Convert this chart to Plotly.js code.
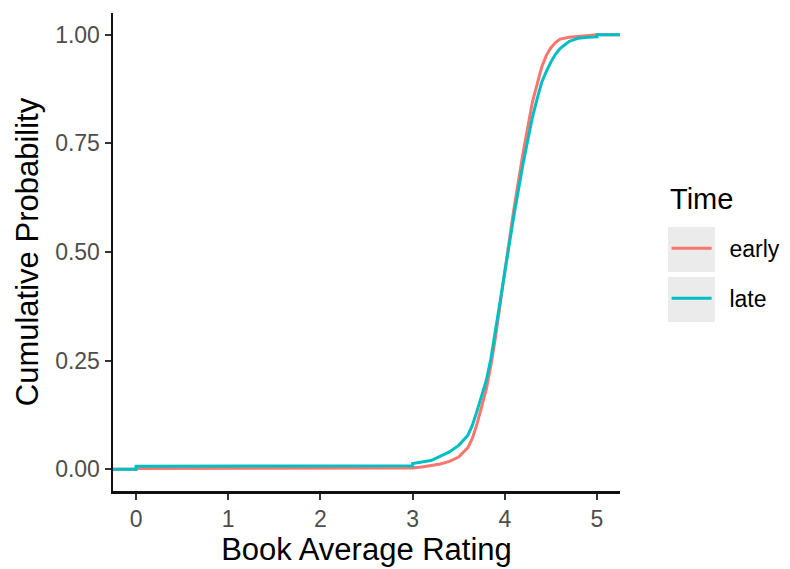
<!DOCTYPE html>
<html>
<head>
<meta charset="utf-8">
<script src="https://cdn.plot.ly/plotly-3.0.1.min.js"></script>
<style>html,body{margin:0;padding:0;background:#fff;}#chart{width:790px;height:569px;}</style>
</head>
<body>
<div id="chart"></div>
<script>
const earlyX = [-0.25, 0, 0, 3.0, 3.1, 3.2, 3.3, 3.4, 3.5, 3.6, 3.65, 3.7, 3.75, 3.8, 3.85, 3.9, 4.0, 4.1, 4.2, 4.3, 4.35, 4.4, 4.45, 4.5, 4.55, 4.6, 4.7, 4.8, 4.9, 5.0, 5.25];
const earlyY = [0, 0, 0.002, 0.003, 0.005, 0.008, 0.012, 0.018, 0.028, 0.05, 0.072, 0.105, 0.142, 0.185, 0.24, 0.305, 0.455, 0.6, 0.73, 0.845, 0.885, 0.925, 0.952, 0.97, 0.982, 0.99, 0.994, 0.996, 0.998, 1.0, 1.0];
const lateX = [-0.25, 0, 0, 3.0, 3.0, 3.2, 3.4, 3.5, 3.6, 3.65, 3.7, 3.75, 3.8, 3.85, 3.9, 4.0, 4.1, 4.2, 4.3, 4.35, 4.4, 4.45, 4.5, 4.55, 4.6, 4.7, 4.8, 4.9, 5.0, 5.0, 5.25];
const lateY = [0, 0, 0.007, 0.008, 0.013, 0.02, 0.04, 0.055, 0.078, 0.102, 0.135, 0.168, 0.205, 0.255, 0.32, 0.46, 0.585, 0.705, 0.81, 0.852, 0.89, 0.915, 0.937, 0.955, 0.968, 0.985, 0.992, 0.994, 0.995, 1.0, 1.0];
const xTicks = [0, 1, 2, 3, 4, 5];
const yTicks = [0, 0.25, 0.5, 0.75, 1];
const yTickText = ["0.00", "0.25", "0.50", "0.75", "1.00"];

const traces = [
  {x: earlyX, y: earlyY, name: "\u00a0\u00a0early", type: "scatter", mode: "lines",
   line: {color: "#F8766D", width: 3}, legendgroup: "early"},
  {x: lateX, y: lateY, name: "\u00a0\u00a0late", type: "scatter", mode: "lines",
   line: {color: "#00BFC4", width: 3}, legendgroup: "late"}
];

const fam = "Liberation Sans, Arial, sans-serif";
const tickFont = {family: fam, size: 23, color: "#4D4D4D"};
const titleFont = {family: fam, size: 31, color: "#000"};

const layout = {
  width: 790, height: 569,
  margin: {l: 113, r: 170, t: 13, b: 78, autoexpand: false},
  paper_bgcolor: "#fff", plot_bgcolor: "#fff",
  showlegend: true,
  xaxis: {
    range: [-0.25, 5.25], tickvals: xTicks, ticktext: xTicks.map(String),
    showgrid: false, zeroline: false, showline: true, linecolor: "#111", linewidth: 2.5,
    ticks: "outside", ticklen: 6, tickwidth: 2, tickcolor: "#333",
    tickfont: tickFont,
    title: {text: "Book Average Rating", font: titleFont, standoff: 5}
  },
  yaxis: {
    range: [-0.05, 1.05], tickvals: yTicks, ticktext: yTickText,
    showgrid: false, zeroline: false, showline: true, linecolor: "#111", linewidth: 2.5,
    ticks: "outside", ticklen: 6, tickwidth: 2, tickcolor: "#333",
    tickfont: tickFont,
    title: {text: "Cumulative Probability", font: titleFont, standoff: 8}
  },
  legend: {
    x: 1.092, y: 0.5526, xanchor: "left", yanchor: "top",
    font: {family: fam, size: 23, color: "#000"},
    tracegroupgap: 17, itemwidth: 40, bgcolor: "rgba(0,0,0,0)"
  },
  annotations: [
    {text: "Time", xref: "paper", yref: "paper", x: 1.0947, y: 0.61, xanchor: "left", yanchor: "middle",
     showarrow: false, font: {family: fam, size: 29, color: "#000"}}
  ],
  shapes: [
    {type: "rect", xref: "paper", yref: "paper", x0: 1.0947, x1: 1.1874, y0: 0.4582, y1: 0.5523,
     fillcolor: "#EBEBEB", line: {width: 0}, layer: "below"},
    {type: "rect", xref: "paper", yref: "paper", x0: 1.0947, x1: 1.1874, y0: 0.3536, y1: 0.4477,
     fillcolor: "#EBEBEB", line: {width: 0}, layer: "below"}
  ]
};

Plotly.newPlot("chart", traces, layout, {displayModeBar: false, staticPlot: true});
</script>
</body>
</html>
